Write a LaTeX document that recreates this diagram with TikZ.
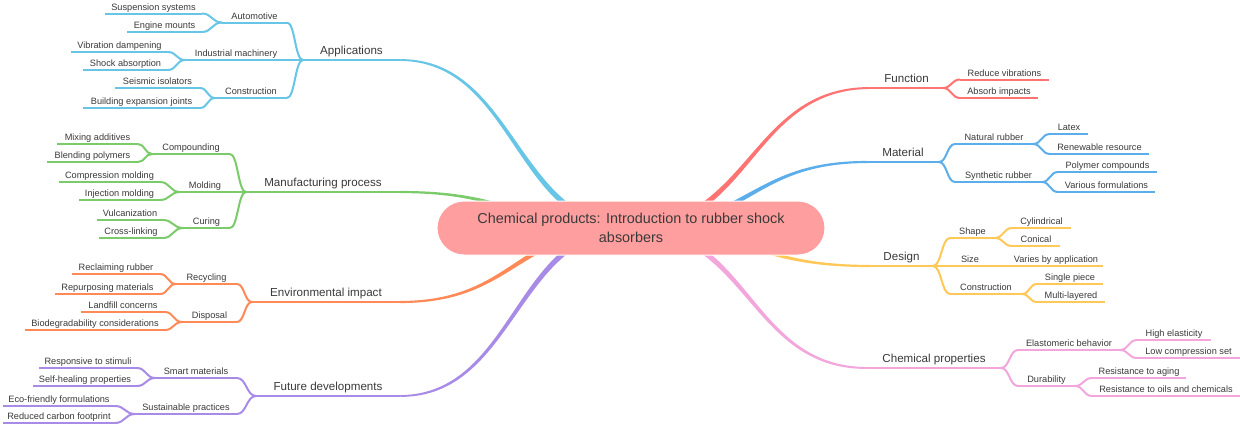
\documentclass[tikz,border=0pt]{standalone}
\usepackage{fontspec}
\setmainfont{Liberation Sans}
\usetikzlibrary{calc,backgrounds}
\definecolor{capps}{HTML}{67C5E6}
\definecolor{cmanu}{HTML}{7BCB6A}
\definecolor{cenv}{HTML}{FF8A57}
\definecolor{cfut}{HTML}{A88BE6}
\definecolor{cfunc}{HTML}{FF7373}
\definecolor{cmat}{HTML}{5BAEEA}
\definecolor{cdes}{HTML}{FFC857}
\definecolor{cchem}{HTML}{F3A6DC}
\definecolor{cctr}{HTML}{FF9E9E}
\definecolor{ctext}{HTML}{3A3A3A}
\tikzset{
  ln/.style={line width=2pt},
  sm/.style={inner sep=0pt, text=ctext, font=\fontsize{9.2}{11}\selectfont, yshift=0pt},
  lg/.style={inner sep=0pt, text=ctext, font=\fontsize{11.6}{14}\selectfont, yshift=2pt},
  ctrbox/.style={draw=white, line width=1pt, fill=cctr, rounded corners=27pt,
    minimum width=388pt, minimum height=54pt, align=center, inner sep=0pt,
    text=ctext, font=\fontsize{14.4}{19}\selectfont}
}
% item: name, left x, right x, y, text, colour, text style
\newcommand\mmitem[7]{%
  \coordinate (#1-l) at (#2,#4);
  \coordinate (#1-r) at (#3,#4);
  \draw[#6, ln] (#1-l) -- (#1-r);
  \node[#7, anchor=base] (#1) at ({(#2+#3)/2},{#4-3.5}) {#5};}
% S-shaped connector with horizontal tangents
\newcommand\hc[3]{%
  \draw[#1, ln] let \p1=(#2), \p2=(#3) in
    (\p1) .. controls ({0.5*\x1+0.5*\x2},\y1) and ({0.5*\x1+0.5*\x2},\y2) .. (\p2);}
% tapered main branch
\newcommand\mainbr[3]{%
  \fill[#1] let \p1=(#2), \p2=(#3), \n1={veclen(\x2-\x1,\y2-\y1)},
     \n2={(\y1-\y2)/\n1}, \n3={(\x2-\x1)/\n1}, \n4={0.5*\x1+0.5*\x2} in
    ({\x1+3*\n2},{\y1+3*\n3}) .. controls ({\n4+3*\n2},{\y1+3*\n3}) and ({\n4+1.1*\n2},{\y2+1.1*\n3})
    .. ({\x2+1.1*\n2},{\y2+1.1*\n3}) -- ({\x2-1.1*\n2},{\y2-1.1*\n3})
    .. controls ({\n4-1.1*\n2},{\y2-1.1*\n3}) and ({\n4-3*\n2},{\y1-3*\n3})
    .. ({\x1-3*\n2},{\y1-3*\n3}) -- cycle;}
\begin{document}
\begin{tikzpicture}[x=1pt,y=-1pt]
\useasboundingbox (0,0) rectangle (1240,424);
% centre
\node[ctrbox] (ctr) at (631,228) {Chemical products: Introduction to rubber shock\\absorbers};

% ---------- Applications ----------
\mmitem{apps}{303}{400}{60}{Applications}{capps}{lg}
\mmitem{auto}{222}{287}{22.5}{Automotive}{capps}{sm}
\mmitem{susp}{105}{202}{13.5}{Suspension systems}{capps}{sm}
\mmitem{engm}{127}{202}{32}{Engine mounts}{capps}{sm}
\mmitem{indm}{185}{287}{60}{Industrial machinery}{capps}{sm}
\mmitem{vibd}{71}{168}{52}{Vibration dampening}{capps}{sm}
\mmitem{shab}{83}{168}{70}{Shock absorption}{capps}{sm}
\mmitem{cons}{215}{287}{98}{Construction}{capps}{sm}
\mmitem{seis}{115}{200}{88}{Seismic isolators}{capps}{sm}
\mmitem{bexp}{83}{200}{108}{Building expansion joints}{capps}{sm}
\hc{capps}{auto-r}{apps-l}\hc{capps}{indm-r}{apps-l}\hc{capps}{cons-r}{apps-l}
\hc{capps}{susp-r}{auto-l}\hc{capps}{engm-r}{auto-l}
\hc{capps}{vibd-r}{indm-l}\hc{capps}{shab-r}{indm-l}
\hc{capps}{seis-r}{cons-l}\hc{capps}{bexp-r}{cons-l}

% ---------- Manufacturing ----------
\mmitem{manu}{246}{400}{192}{Manufacturing process}{cmanu}{lg}
\mmitem{comp}{152}{230}{154}{Compounding}{cmanu}{sm}
\mmitem{mixa}{57}{138}{144}{Mixing additives}{cmanu}{sm}
\mmitem{blep}{47}{138}{162}{Blending polymers}{cmanu}{sm}
\mmitem{mold}{180}{230}{192}{Molding}{cmanu}{sm}
\mmitem{cmol}{59}{160}{182}{Compression molding}{cmanu}{sm}
\mmitem{imol}{79}{160}{200}{Injection molding}{cmanu}{sm}
\mmitem{curi}{183}{230}{228}{Curing}{cmanu}{sm}
\mmitem{vulc}{97}{163}{220}{Vulcanization}{cmanu}{sm}
\mmitem{xlin}{99}{163}{238}{Cross-linking}{cmanu}{sm}
\hc{cmanu}{comp-r}{manu-l}\hc{cmanu}{mold-r}{manu-l}\hc{cmanu}{curi-r}{manu-l}
\hc{cmanu}{mixa-r}{comp-l}\hc{cmanu}{blep-r}{comp-l}
\hc{cmanu}{cmol-r}{mold-l}\hc{cmanu}{imol-r}{mold-l}
\hc{cmanu}{vulc-r}{curi-l}\hc{cmanu}{xlin-r}{curi-l}

% ---------- Environmental impact ----------
\mmitem{envi}{252}{400}{302}{Environmental impact}{cenv}{lg}
\mmitem{recy}{176}{237}{284}{Recycling}{cenv}{sm}
\mmitem{recl}{72}{160}{274}{Reclaiming rubber}{cenv}{sm}
\mmitem{repu}{55}{160}{294}{Repurposing materials}{cenv}{sm}
\mmitem{disp}{182}{237}{322}{Disposal}{cenv}{sm}
\mmitem{land}{81}{165}{312}{Landfill concerns}{cenv}{sm}
\mmitem{biod}{25}{165}{330}{Biodegradability considerations}{cenv}{sm}
\hc{cenv}{recy-r}{envi-l}\hc{cenv}{disp-r}{envi-l}
\hc{cenv}{recl-r}{recy-l}\hc{cenv}{repu-r}{recy-l}
\hc{cenv}{land-r}{disp-l}\hc{cenv}{biod-r}{disp-l}

% ---------- Future developments ----------
\mmitem{futu}{256}{400}{396}{Future developments}{cfut}{lg}
\mmitem{smar}{155}{237}{378}{Smart materials}{cfut}{sm}
\mmitem{resp}{39}{137}{368}{Responsive to stimuli}{cfut}{sm}
\mmitem{self}{33}{137}{386}{Self-healing properties}{cfut}{sm}
\mmitem{sust}{135}{237}{414}{Sustainable practices}{cfut}{sm}
\mmitem{ecof}{3}{115}{406}{Eco-friendly formulations}{cfut}{sm}
\mmitem{redc}{3}{115}{423}{Reduced carbon footprint}{cfut}{sm}
\hc{cfut}{smar-r}{futu-l}\hc{cfut}{sust-r}{futu-l}
\hc{cfut}{resp-r}{smar-l}\hc{cfut}{self-r}{smar-l}
\hc{cfut}{ecof-r}{sust-l}\hc{cfut}{redc-r}{sust-l}

% ---------- Function ----------
\mmitem{func}{870}{943}{88}{Function}{cfunc}{lg}
\mmitem{redv}{960}{1049}{79.5}{Reduce vibrations}{cfunc}{sm}
\mmitem{absi}{960}{1038}{98}{Absorb impacts}{cfunc}{sm}
\hc{cfunc}{func-r}{redv-l}\hc{cfunc}{func-r}{absi-l}

% ---------- Material ----------
\mmitem{matr}{867}{939}{162}{Material}{cmat}{lg}
\mmitem{natr}{955}{1033}{144}{Natural rubber}{cmat}{sm}
\mmitem{latx}{1050}{1088}{134}{Latex}{cmat}{sm}
\mmitem{renw}{1050}{1149}{154}{Renewable resource}{cmat}{sm}
\mmitem{synr}{955}{1042}{182}{Synthetic rubber}{cmat}{sm}
\mmitem{polc}{1058}{1157}{172}{Polymer compounds}{cmat}{sm}
\mmitem{varf}{1058}{1155}{192}{Various formulations}{cmat}{sm}
\hc{cmat}{matr-r}{natr-l}\hc{cmat}{matr-r}{synr-l}
\hc{cmat}{natr-r}{latx-l}\hc{cmat}{natr-r}{renw-l}
\hc{cmat}{synr-r}{polc-l}\hc{cmat}{synr-r}{varf-l}

% ---------- Design ----------
\mmitem{desg}{870}{933}{266}{Design}{cdes}{lg}
\mmitem{shap}{950}{995}{238}{Shape}{cdes}{sm}
\mmitem{cyli}{1012}{1071}{228}{Cylindrical}{cdes}{sm}
\mmitem{coni}{1012}{1060}{246}{Conical}{cdes}{sm}
\mmitem{size}{950}{990}{266}{Size}{cdes}{sm}
\mmitem{vary}{1009}{1103}{266}{Varies by application}{cdes}{sm}
\mmitem{dcon}{950}{1022}{294}{Construction}{cdes}{sm}
\mmitem{sing}{1037}{1103}{284}{Single piece}{cdes}{sm}
\mmitem{mult}{1037}{1105}{302}{Multi-layered}{cdes}{sm}
\hc{cdes}{desg-r}{shap-l}\hc{cdes}{desg-r}{size-l}\hc{cdes}{desg-r}{dcon-l}
\hc{cdes}{shap-r}{cyli-l}\hc{cdes}{shap-r}{coni-l}
\hc{cdes}{size-r}{vary-l}
\hc{cdes}{dcon-r}{sing-l}\hc{cdes}{dcon-r}{mult-l}

% ---------- Chemical properties ----------
\mmitem{chem}{867}{1001}{368}{Chemical properties}{cchem}{lg}
\mmitem{elas}{1018}{1120}{350}{Elastomeric behavior}{cchem}{sm}
\mmitem{hiel}{1137}{1211}{340}{High elasticity}{cchem}{sm}
\mmitem{lowc}{1137}{1240}{358}{Low compression set}{cchem}{sm}
\mmitem{dura}{1018}{1075}{386}{Durability}{cchem}{sm}
\mmitem{ragi}{1092}{1186}{378}{Resistance to aging}{cchem}{sm}
\mmitem{roil}{1092}{1240}{396}{Resistance to oils and chemicals}{cchem}{sm}
\hc{cchem}{chem-r}{elas-l}\hc{cchem}{chem-r}{dura-l}
\hc{cchem}{elas-r}{hiel-l}\hc{cchem}{elas-r}{lowc-l}
\hc{cchem}{dura-r}{ragi-l}\hc{cchem}{dura-r}{roil-l}

% ---------- main branches (behind the centre) ----------
\begin{pgfonlayer}{background}
\fill[white] (0,0) rectangle (1240,424);
\mainbr{capps}{ctr.center}{apps-r}
\mainbr{cmanu}{ctr.center}{manu-r}
\mainbr{cenv}{ctr.center}{envi-r}
\mainbr{cfut}{ctr.center}{futu-r}
\mainbr{cfunc}{ctr.center}{func-l}
\mainbr{cmat}{ctr.center}{matr-l}
\mainbr{cdes}{ctr.center}{desg-l}
\mainbr{cchem}{ctr.center}{chem-l}
\end{pgfonlayer}
\end{tikzpicture}
\end{document}
